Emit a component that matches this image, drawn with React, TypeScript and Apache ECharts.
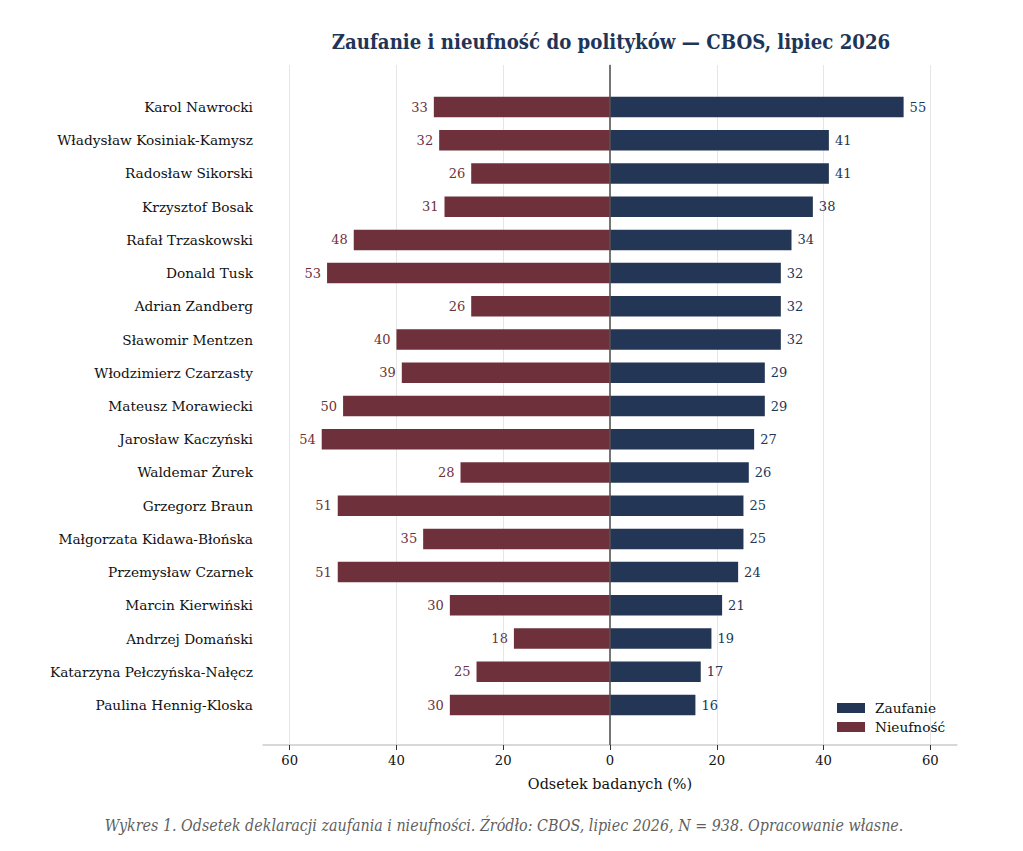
import React, { useEffect, useRef } from "react";
import * as echarts from "echarts";

const politicians = [
  "Karol Nawrocki",
  "Władysław Kosiniak-Kamysz",
  "Radosław Sikorski",
  "Krzysztof Bosak",
  "Rafał Trzaskowski",
  "Donald Tusk",
  "Adrian Zandberg",
  "Sławomir Mentzen",
  "Włodzimierz Czarzasty",
  "Mateusz Morawiecki",
  "Jarosław Kaczyński",
  "Waldemar Żurek",
  "Grzegorz Braun",
  "Małgorzata Kidawa-Błońska",
  "Przemysław Czarnek",
  "Marcin Kierwiński",
  "Andrzej Domański",
  "Katarzyna Pełczyńska-Nałęcz",
  "Paulina Hennig-Kloska",
];
const trust = [55, 41, 41, 38, 34, 32, 32, 32, 29, 29, 27, 26, 25, 25, 24, 21, 19, 17, 16];
const distrust = [33, 32, 26, 31, 48, 53, 26, 40, 39, 50, 54, 28, 51, 35, 51, 30, 18, 25, 30];
const xTicks = [-60, -40, -20, 0, 20, 40, 60];
const gridLineValues = [-60, -40, -20, 20, 40, 60];

const TRUST = "#233656";
const DISTRUST = "#6e313b";
const SERIF = "'DejaVu Serif', serif";
const FS = 13.7;

export default function App() {
  const ref = useRef<HTMLDivElement>(null);
  useEffect(() => {
    if (!ref.current) return;
    const chart = echarts.init(ref.current, undefined, { renderer: "svg" });
    const L = 263, R = 1023 - 957, T = 65, B = 851 - 745;
    const band = (705 - 107) / 18;
    const T2 = 107 - band / 2;
    const B2 = 851 - (705 + band / 2);
    chart.setOption({
      animation: false,
      backgroundColor: "#ffffff",
      textStyle: { fontFamily: SERIF },
      title: [
        {
          text: "Zaufanie i nieufność do polityków — CBOS, lipiec 2026",
          left: 606,
          top: 27,
          textAlign: "center",
          textStyle: {
            fontFamily: "'DejaVu Serif Condensed', 'DejaVu Serif', serif",
            fontWeight: "bold",
            fontSize: 20.2,
            color: "#1f3557",
          },
        },
        {
          text: "Wykres 1. Odsetek deklaracji zaufania i nieufności. Źródło: CBOS, lipiec 2026, N = 938. Opracowanie własne.",
          left: 499,
          top: 812,
          textAlign: "center",
          textStyle: {
            fontFamily: "'DejaVu Serif Condensed', 'DejaVu Serif', serif",
            fontStyle: "italic",
            fontWeight: "normal",
            fontSize: 15.9,
            color: "#5f5f5f",
          },
        },
      ],
      legend: {
        orient: "vertical",
        left: 837,
        top: 701,
        padding: 0,
        itemWidth: 28,
        itemHeight: 10,
        itemGap: 5,
        icon: "rect",
        textStyle: { fontFamily: SERIF, fontSize: FS, color: "#111", padding: [0, 0, 0, 5] },
        data: ["Zaufanie", "Nieufność"],
      },
      grid: [
        { left: L, right: R, top: T, bottom: B, containLabel: false },
        { left: L, right: R, top: T2, bottom: B2, containLabel: false },
      ],
      xAxis: [
        {
          gridIndex: 0,
          type: "value",
          min: -65,
          max: 65,
          name: "Odsetek badanych (%)",
          nameLocation: "middle",
          nameGap: 32,
          nameTextStyle: { fontFamily: SERIF, fontSize: 14.4, color: "#111" },
          axisLine: { show: true, lineStyle: { color: "#cccccc", width: 1.5 } },
          axisTick: {
            show: true,
            length: 5,
            customValues: xTicks,
            lineStyle: { color: "#333" },
          },
          axisLabel: {
            customValues: xTicks,
            formatter: (v: number) => String(Math.abs(v)),
            fontFamily: SERIF,
            fontSize: 13.2,
            color: "#111",
            margin: 9,
          },
          splitLine: { show: false },
        },
        {
          gridIndex: 1,
          type: "value",
          min: -65,
          max: 65,
          show: false,
          splitLine: { show: false },
        },
      ],
      yAxis: [
        {
          gridIndex: 0,
          type: "value",
          min: 0,
          max: 1,
          axisLine: { show: true, lineStyle: { color: "#cccccc", width: 1.5 } },
          axisTick: { show: false },
          axisLabel: { show: false },
          splitLine: { show: false },
        },
        {
          gridIndex: 1,
          type: "category",
          inverse: true,
          data: politicians,
          axisLine: { show: true, lineStyle: { color: "rgba(0,0,0,0)" } },
          axisTick: {
            show: true,
            alignWithLabel: true,
            length: 5,
            lineStyle: { color: "#333", width: 1 },
          },
          axisLabel: {
            fontFamily: SERIF,
            fontSize: FS,
            color: "#111",
            margin: 10,
          },
        },
      ],
      series: [
        {
          type: "line",
          xAxisIndex: 0,
          yAxisIndex: 0,
          data: [],
          silent: true,
          z: 0,
          markLine: {
            silent: true,
            z: 0,
            symbol: "none",
            label: { show: false },
            lineStyle: { color: "#e6e6e6", width: 1, type: "solid" },
            data: gridLineValues.map((v) => ({ xAxis: v })),
          },
        },
        {
          name: "Zaufanie",
          type: "bar",
          xAxisIndex: 1,
          yAxisIndex: 1,
          stack: "total",
          barWidth: 20.5,
          z: 2,
          data: trust,
          itemStyle: { color: TRUST },
          label: {
            show: true,
            position: "right",
            distance: 6,
            fontFamily: SERIF,
            fontSize: 13,
            color: TRUST,
            formatter: (p: any) => String(Math.abs(p.value)),
          },
        },
        {
          name: "Nieufność",
          type: "bar",
          xAxisIndex: 1,
          yAxisIndex: 1,
          stack: "total",
          barWidth: 20.5,
          z: 2,
          data: distrust.map((v) => -v),
          itemStyle: { color: DISTRUST },
          label: {
            show: true,
            position: "left",
            distance: 6,
            fontFamily: SERIF,
            fontSize: 13,
            color: DISTRUST,
            formatter: (p: any) => String(Math.abs(p.value)),
          },
        },
        {
          type: "line",
          xAxisIndex: 0,
          yAxisIndex: 0,
          data: [],
          silent: true,
          z: 10,
          markLine: {
            silent: true,
            z: 10,
            symbol: "none",
            label: { show: false },
            lineStyle: { color: "#555555", width: 1.5, type: "solid" },
            data: [{ xAxis: 0 }],
          },
        },
      ],
    });
    return () => chart.dispose();
  }, []);
  return (
    <div
      ref={ref}
      style={{ position: "absolute", left: 0, top: 0, width: 1023, height: 851 }}
    />
  );
}
